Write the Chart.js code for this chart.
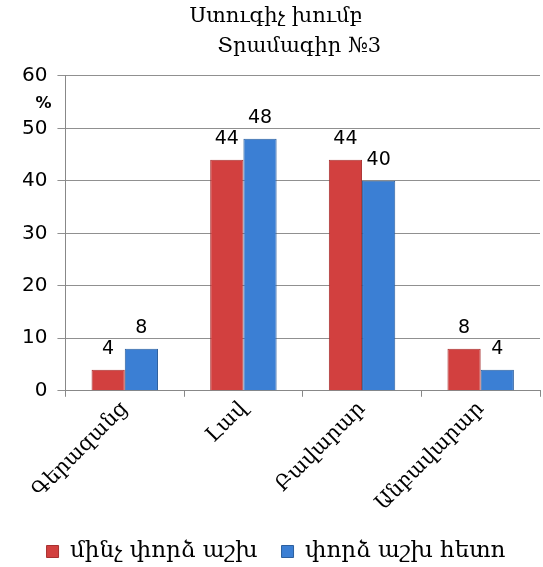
<!DOCTYPE html>
<html lang="hy">
<head>
<meta charset="UTF-8">
<title>Ստուգիչ խումբ</title>
<script src="https://cdn.jsdelivr.net/npm/chart.js"></script>
<style>
  html, body { margin: 0; padding: 0; background: #fff; }
  #wrap { width: 543px; height: 567px; }
</style>
</head>
<body>
<div id="wrap"><canvas id="chart"></canvas></div>
<script>
const categories = ["Գերազանց", "Լավ", "Բավարար", "Անբավարար"];
const beforeValues = [4, 44, 44, 8];
const afterValues = [8, 48, 40, 4];
const seriesNames = ["մինչ փորձ աշխ", "փորձ աշխ հետո"];
const titleLines = ["Ստուգիչ խումբ", "       Տրամագիր №3"];
const yTicks = [0, 10, 20, 30, 40, 50, 60];

const serif = "'DejaVu Serif', serif";
const sans = "'DejaVu Sans', sans-serif";

// numbers above the bars
const valueLabels = {
  id: 'valueLabels',
  afterDatasetsDraw(chart) {
    const ctx = chart.ctx;
    ctx.save();
    ctx.font = "19px " + sans;
    ctx.fillStyle = "#000";
    ctx.textAlign = "center";
    ctx.textBaseline = "bottom";
    chart.data.datasets.forEach((ds, i) => {
      chart.getDatasetMeta(i).data.forEach((bar, j) => {
        ctx.fillText(ds.data[j], bar.x, bar.y - 11);
      });
    });
    ctx.restore();
  }
};

// "%" unit next to the y axis
const unitLabel = {
  id: 'unitLabel',
  afterDraw(chart) {
    const y = chart.scales.y;
    const ctx = chart.ctx;
    ctx.save();
    ctx.font = "bold 16px " + sans;
    ctx.fillStyle = "#000";
    ctx.textAlign = "center";
    ctx.textBaseline = "middle";
    ctx.fillText("%", y.right - 22, y.getPixelForValue(54.6));
    ctx.restore();
  }
};

new Chart(document.getElementById("chart"), {
  type: 'bar',
  data: {
    labels: categories,
    datasets: [
      { label: seriesNames[0], data: beforeValues, backgroundColor: "#d2403f", borderColor: "#a83030", borderWidth: 1 },
      { label: seriesNames[1], data: afterValues, backgroundColor: "#3b7fd4", borderColor: "#2c5f9e", borderWidth: 1 }
    ]
  },
  options: {
    responsive: true,
    maintainAspectRatio: false,
    animation: false,
    layout: { padding: { left: 12, right: 3, top: 2, bottom: -6 } },
    datasets: { bar: { categoryPercentage: 0.56, barPercentage: 1 } },
    plugins: {
      title: {
        display: true,
        text: titleLines,
        color: "#000",
        font: { family: serif, size: 21, weight: 'normal', lineHeight: 1.4 },
        padding: { top: 0, bottom: 15 }
      },
      legend: {
        position: 'bottom',
        labels: {
          color: "#000",
          font: { family: serif, size: 23 },
          boxWidth: 12,
          boxHeight: 12,
          padding: 24
        }
      },
      tooltip: { enabled: false }
    },
    scales: {
      x: {
        grid: { display: true, drawOnChartArea: false, drawTicks: true, tickLength: 6, offset: true, color: "#888" },
        border: { color: "#888" },
        ticks: {
          color: "#000",
          font: { family: serif, size: 21 },
          minRotation: 45,
          maxRotation: 45,
          padding: 0
        }
      },
      y: {
        min: 0,
        max: 60,
        afterBuildTicks(axis) { axis.ticks = yTicks.map(v => ({ value: v })); },
        grid: { color: "#909090", tickLength: 8 },
        border: { color: "#888" },
        ticks: {
          color: "#000",
          font: { family: sans, size: 20 },
          padding: 10
        }
      }
    }
  },
  plugins: [valueLabels, unitLabel]
});
</script>
</body>
</html>
